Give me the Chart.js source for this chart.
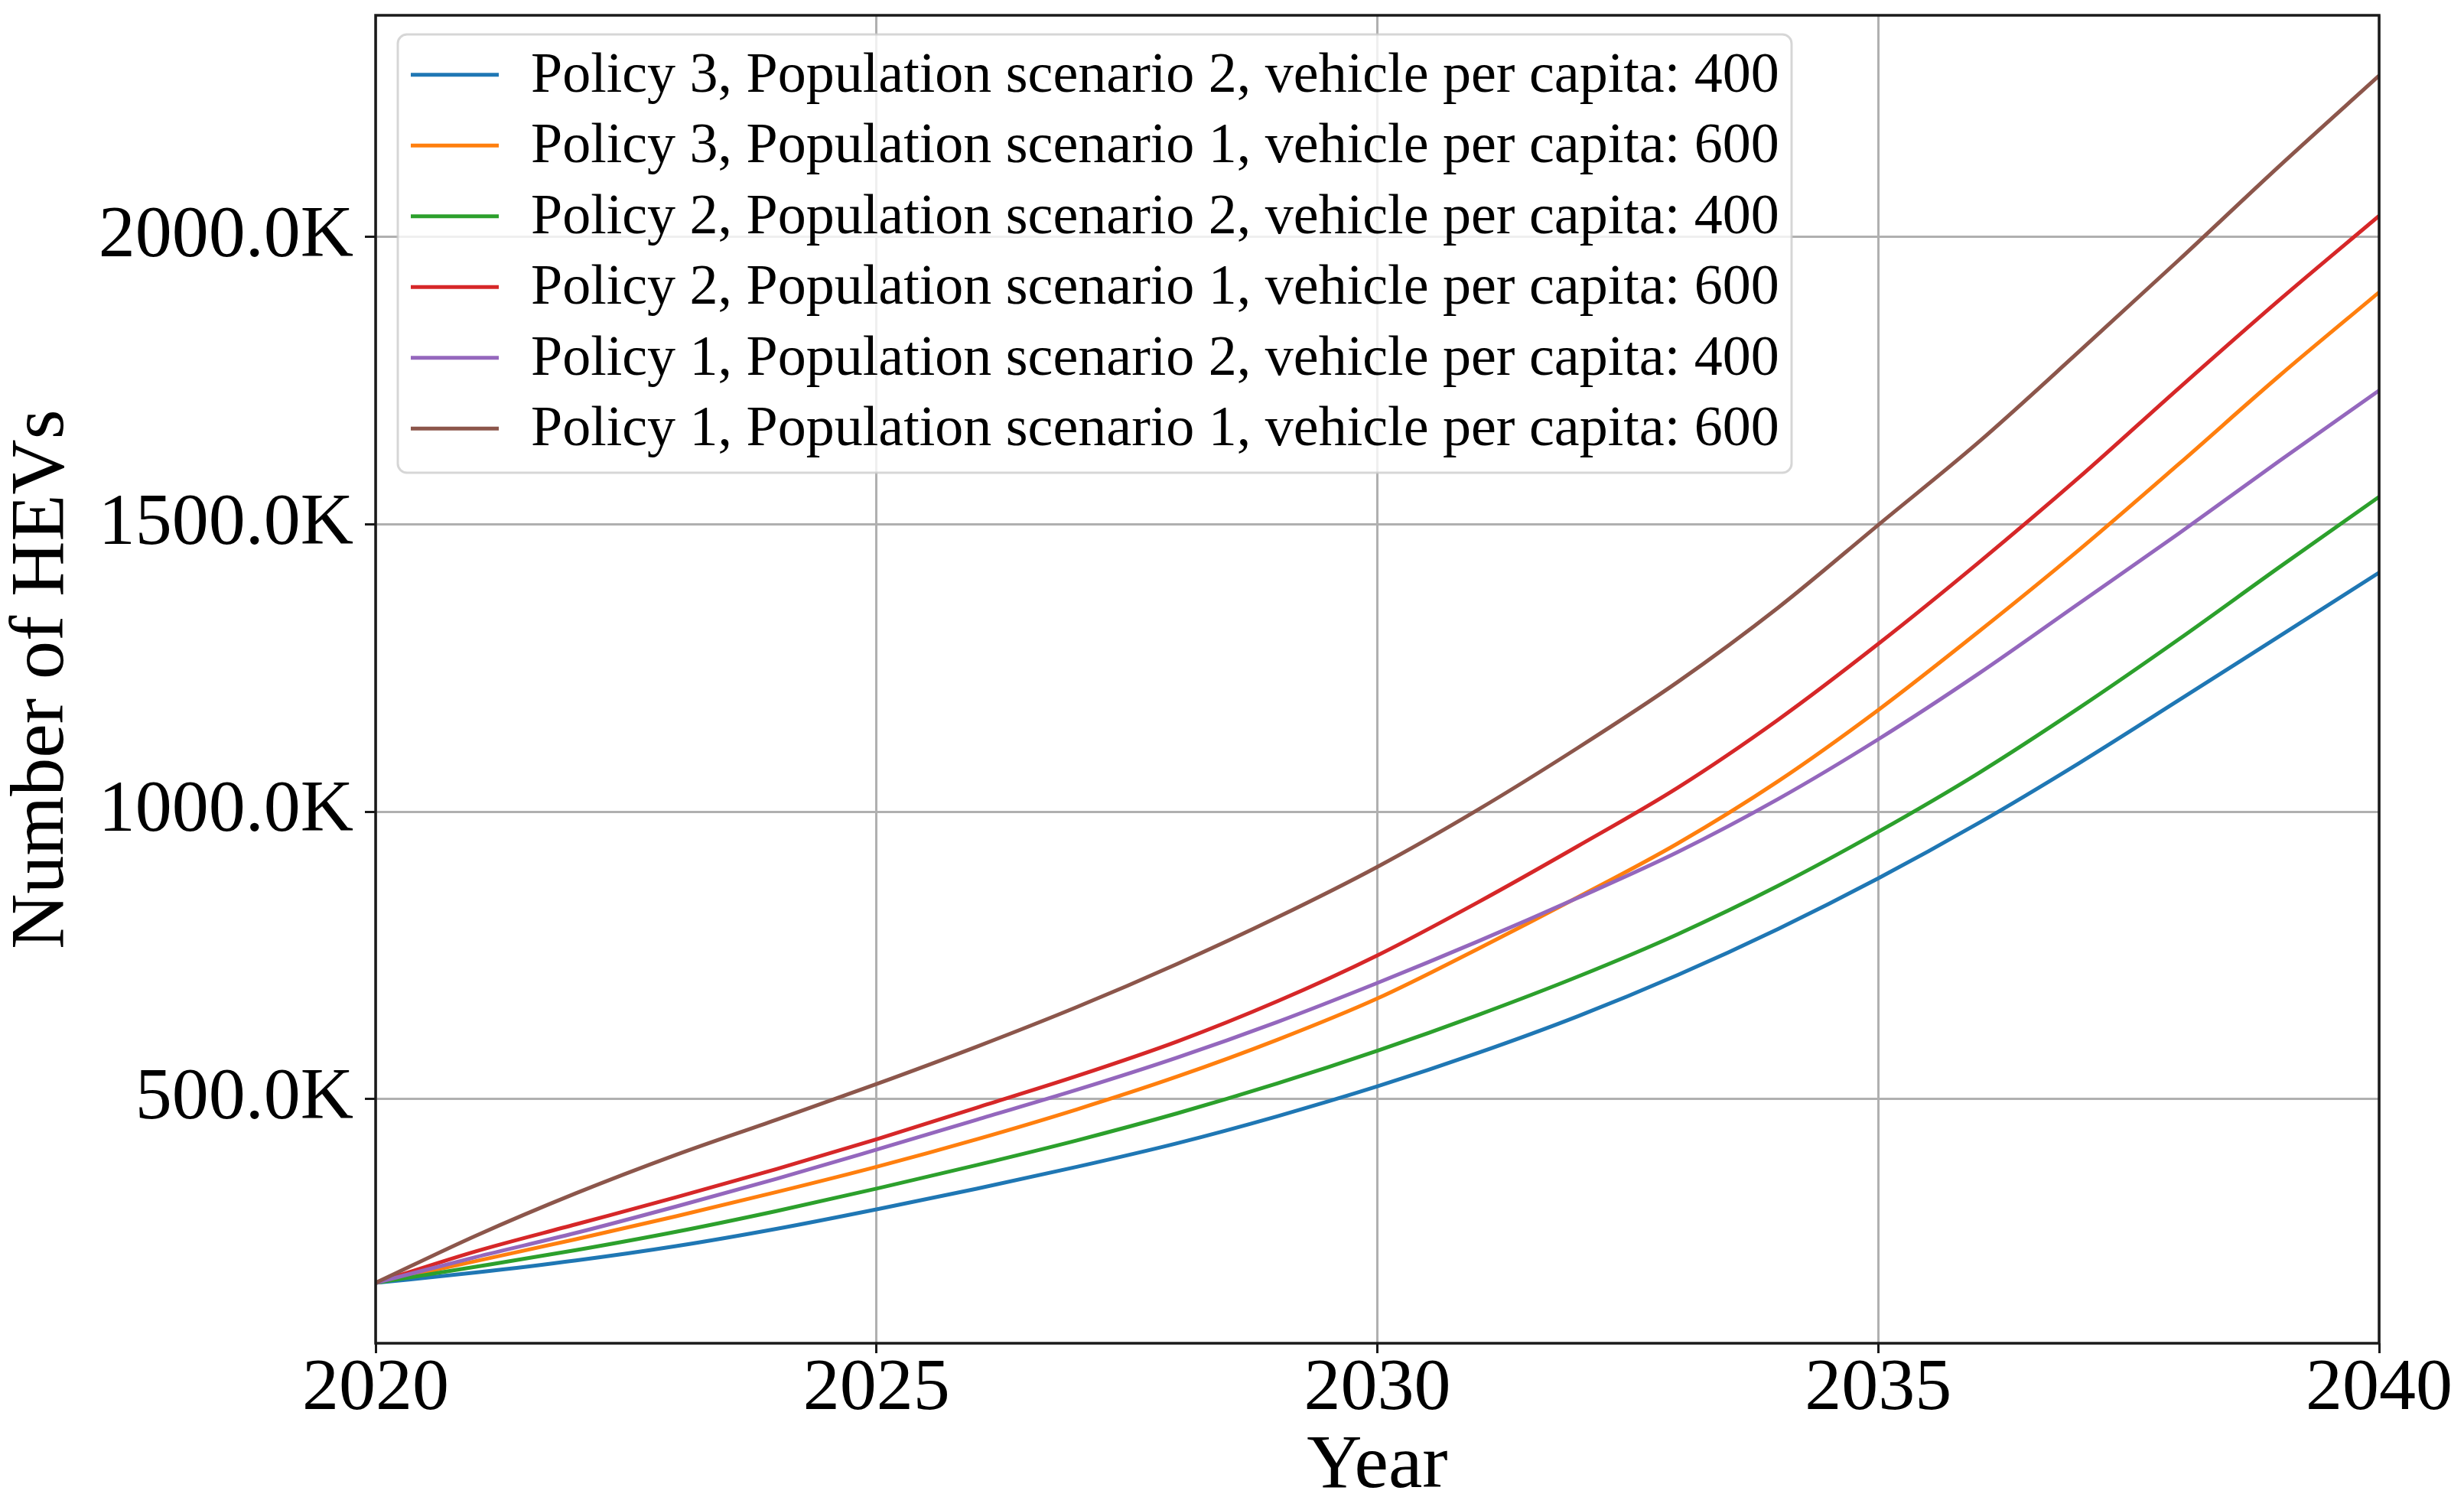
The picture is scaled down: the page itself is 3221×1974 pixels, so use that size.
<!DOCTYPE html>
<html>
<head>
<meta charset="utf-8">
<script src="https://cdn.jsdelivr.net/npm/chart.js@4.4.1/dist/chart.umd.min.js"></script>
<style>
  html, body { margin: 0; padding: 0; background: #ffffff; }
  #wrap { width: 3221px; height: 1974px; position: relative; }
  canvas { display: block; }
</style>
</head>
<body>
<div id="wrap"><canvas id="c" width="3221" height="1974"></canvas></div>
<script>
// ---- data (values in thousands of vehicles) ----
const years = [2020,2021,2022,2023,2024,2025,2026,2027,2028,2029,2030,2031,2032,2033,2034,2035,2036,2037,2038,2039,2040];
const seriesLabels = [
  "Policy 3, Population scenario 2, vehicle per capita: 400",
  "Policy 3, Population scenario 1, vehicle per capita: 600",
  "Policy 2, Population scenario 2, vehicle per capita: 400",
  "Policy 2, Population scenario 1, vehicle per capita: 600",
  "Policy 1, Population scenario 2, vehicle per capita: 400",
  "Policy 1, Population scenario 1, vehicle per capita: 600"
];
const p3s2 = [180,198,219,244,274,308,344,382,423,470,522,580,644,716,796,884,980,1084,1194,1305,1416];
const p3s1 = [180,218,256,296,338,382,430,482,539,603,675,761,851,945,1053,1177,1313,1455,1605,1758,1904];
const p2s2 = [180,208,237,269,305,344,385,428,475,527,584,646,713,787,871,965,1067,1180,1300,1425,1548];
const p2s1 = [180,235,282,329,378,430,485,540,600,670,750,842,940,1042,1160,1292,1433,1581,1737,1890,2037];
const p1s2 = [180,225,267,313,361,412,464,516,572,634,702,774,850,930,1022,1126,1240,1362,1484,1610,1733];
const p1s1 = [180,262,336,403,464,526,591,660,735,816,904,1003,1111,1226,1355,1499,1643,1800,1960,2123,2281];
const xTicks = [2020,2025,2030,2035,2040];
const yTicks = [500000,1000000,1500000,2000000];

const seriesValues = [p3s2, p3s1, p2s2, p2s1, p1s2, p1s1];
const colors = ['#1f77b4','#ff7f0e','#2ca02c','#d62728','#9467bd','#8c564b'];

const FONT = "'Liberation Serif', 'Times New Roman', serif";

const datasets = seriesValues.map((vals, i) => ({
  label: seriesLabels[i],
  data: vals.map((v, j) => ({ x: years[j], y: v * 1000 })),
  borderColor: colors[i],
  backgroundColor: colors[i],
  borderWidth: 5,
  pointRadius: 0,
  fill: false,
  cubicInterpolationMode: 'monotone',
  order: seriesValues.length - i
}));

// legend drawn inside the plot area (matplotlib style)
const insideLegend = {
  id: 'insideLegend',
  afterDatasetsDraw(chart) {
    const ctx = chart.ctx;
    const bx = 520, by = 45, bw = 1822, bh = 573, r = 12;
    ctx.save();
    ctx.beginPath();
    ctx.moveTo(bx + r, by);
    ctx.lineTo(bx + bw - r, by);
    ctx.arcTo(bx + bw, by, bx + bw, by + r, r);
    ctx.lineTo(bx + bw, by + bh - r);
    ctx.arcTo(bx + bw, by + bh, bx + bw - r, by + bh, r);
    ctx.lineTo(bx + r, by + bh);
    ctx.arcTo(bx, by + bh, bx, by + bh - r, r);
    ctx.lineTo(bx, by + r);
    ctx.arcTo(bx, by, bx + r, by, r);
    ctx.closePath();
    ctx.fillStyle = 'rgba(255,255,255,0.8)';
    ctx.fill();
    ctx.strokeStyle = 'rgba(204,204,204,0.8)';
    ctx.lineWidth = 3;
    ctx.stroke();
    const rowTop = 97.7, rowStep = 92.5;
    ctx.font = '74px ' + FONT;
    ctx.textAlign = 'left';
    ctx.textBaseline = 'alphabetic';
    chart.data.datasets.forEach((ds, i) => {
      const cy = rowTop + i * rowStep;
      ctx.beginPath();
      ctx.strokeStyle = ds.borderColor;
      ctx.lineWidth = 5;
      ctx.moveTo(537, cy);
      ctx.lineTo(652, cy);
      ctx.stroke();
      ctx.fillStyle = '#000';
      ctx.fillText(ds.label, 694, cy + 22);
    });
    ctx.restore();
  }
};

const frame = {
  id: 'frame',
  afterDraw(chart) {
    const a = chart.chartArea;
    const ctx = chart.ctx;
    ctx.save();
    ctx.strokeStyle = '#1a1a1a';
    ctx.lineWidth = 3.5;
    ctx.strokeRect(a.left, a.top, a.right - a.left, a.bottom - a.top);
    ctx.restore();
  }
};

Chart.defaults.color = '#000';
Chart.defaults.font.family = FONT;

new Chart(document.getElementById('c'), {
  type: 'line',
  data: { datasets },
  plugins: [insideLegend, frame],
  options: {
    responsive: false,
    devicePixelRatio: 1,
    animation: false,
    layout: { padding: { left: 0, right: 111, top: 20, bottom: 0 } },
    plugins: { legend: { display: false }, tooltip: { enabled: false } },
    scales: {
      x: {
        type: 'linear',
        min: 2020,
        max: 2040,
        afterBuildTicks: (s) => { s.ticks = xTicks.map(v => ({ value: v })); },
        afterFit: (s) => { s.height = 218; s.paddingLeft = 0; s.paddingRight = 0; },
        border: { display: false },
        grid: { color: '#b0b0b0', lineWidth: 3, drawTicks: true, tickLength: 13, tickColor: '#1a1a1a', tickWidth: 3 },
        ticks: {
          padding: 0,
          maxRotation: 0,
          autoSkip: false,
          font: { size: 96, family: FONT, lineHeight: 1 },
          color: '#000',
          callback: (v) => String(v)
        },
        title: {
          display: true,
          text: 'Year',
          font: { size: 100, family: FONT, lineHeight: 1 },
          padding: { top: 0, bottom: 6 },
          color: '#000'
        }
      },
      y: {
        type: 'linear',
        min: 75000,
        max: 2386000,
        afterBuildTicks: (s) => { s.ticks = yTicks.map(v => ({ value: v })); },
        afterFit: (s) => { s.width = 491; s.paddingTop = 0; s.paddingBottom = 0; },
        border: { display: false },
        grid: { color: '#b0b0b0', lineWidth: 3, drawTicks: true, tickLength: 14, tickColor: '#1a1a1a', tickWidth: 3 },
        ticks: {
          padding: 15,
          autoSkip: false,
          font: { size: 96, family: FONT, lineHeight: 1 },
          color: '#000',
          callback: (v) => (v / 1000).toFixed(1) + 'K'
        },
        title: {
          display: true,
          text: 'Number of HEVs',
          font: { size: 100, family: FONT, lineHeight: 1 },
          padding: { top: 6, bottom: 0 },
          color: '#000'
        }
      }
    }
  }
});
</script>
</body>
</html>
